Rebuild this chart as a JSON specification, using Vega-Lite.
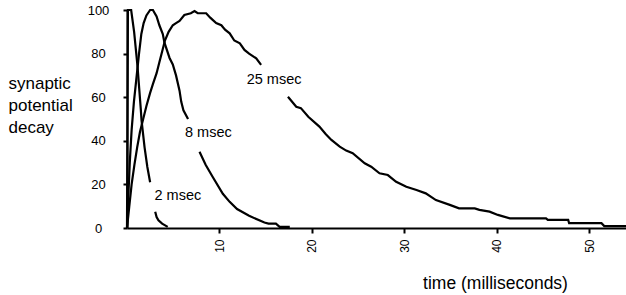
{
  "$schema": "https://vega.github.io/schema/vega-lite/v6.json",
  "width": 499,
  "height": 218,
  "autosize": {"type": "none"},
  "padding": {"left": 127, "top": 10, "right": 0, "bottom": 67},
  "background": "white",
  "config": {"view": {"stroke": null}, "font": "Liberation Sans"},
  "layer": [
    {
      "data": {"values": [
        {"seg": "2a", "t": 0, "v": 0}, {"seg": "2a", "t": 0.1, "v": 100}, {"seg": "2a", "t": 0.45, "v": 100},
        {"seg": "2a", "t": 0.77, "v": 90}, {"seg": "2a", "t": 1.13, "v": 74.5}, {"seg": "2a", "t": 1.49, "v": 54.5},
        {"seg": "2a", "t": 1.57, "v": 49.5}, {"seg": "2a", "t": 1.9, "v": 37}, {"seg": "2a", "t": 2.2, "v": 28}, {"seg": "2a", "t": 2.5, "v": 21},
        {"seg": "2b", "t": 3.05, "v": 7.5}, {"seg": "2b", "t": 3.2, "v": 5}, {"seg": "2b", "t": 3.4, "v": 3.5}, {"seg": "2b", "t": 3.8, "v": 2}, {"seg": "2b", "t": 4.4, "v": 0.5},
        {"seg": "8a", "t": 0, "v": 0}, {"seg": "8a", "t": 0.15, "v": 15}, {"seg": "8a", "t": 0.3, "v": 30}, {"seg": "8a", "t": 0.5, "v": 45},
        {"seg": "8a", "t": 0.75, "v": 58}, {"seg": "8a", "t": 1.0, "v": 68}, {"seg": "8a", "t": 1.3, "v": 80}, {"seg": "8a", "t": 1.55, "v": 89},
        {"seg": "8a", "t": 1.8, "v": 94}, {"seg": "8a", "t": 2.1, "v": 97.5}, {"seg": "8a", "t": 2.5, "v": 100}, {"seg": "8a", "t": 2.8, "v": 100},
        {"seg": "8a", "t": 3.2, "v": 97}, {"seg": "8a", "t": 3.5, "v": 93}, {"seg": "8a", "t": 3.87, "v": 89}, {"seg": "8a", "t": 4.05, "v": 85},
        {"seg": "8a", "t": 4.6, "v": 78}, {"seg": "8a", "t": 4.95, "v": 75}, {"seg": "8a", "t": 5.3, "v": 70}, {"seg": "8a", "t": 5.68, "v": 63},
        {"seg": "8a", "t": 5.86, "v": 58}, {"seg": "8a", "t": 6.1, "v": 54}, {"seg": "8a", "t": 6.6, "v": 50},
        {"seg": "8b", "t": 7.84, "v": 35}, {"seg": "8b", "t": 8.5, "v": 29}, {"seg": "8b", "t": 9.27, "v": 23.4}, {"seg": "8b", "t": 10.36, "v": 15.7},
        {"seg": "8b", "t": 11.1, "v": 12}, {"seg": "8b", "t": 11.9, "v": 8.7}, {"seg": "8b", "t": 13.2, "v": 5.6}, {"seg": "8b", "t": 14.86, "v": 2.5},
        {"seg": "8b", "t": 15.3, "v": 2}, {"seg": "8b", "t": 16.1, "v": 2}, {"seg": "8b", "t": 16.5, "v": 0.5}, {"seg": "8b", "t": 17.6, "v": 0.5},
        {"seg": "25a", "t": 0, "v": 0}, {"seg": "25a", "t": 0.25, "v": 10}, {"seg": "25a", "t": 0.5, "v": 20}, {"seg": "25a", "t": 0.8, "v": 29},
        {"seg": "25a", "t": 1.1, "v": 37}, {"seg": "25a", "t": 1.4, "v": 44}, {"seg": "25a", "t": 1.75, "v": 50}, {"seg": "25a", "t": 2.1, "v": 56},
        {"seg": "25a", "t": 2.5, "v": 62}, {"seg": "25a", "t": 2.8, "v": 66}, {"seg": "25a", "t": 3.2, "v": 71}, {"seg": "25a", "t": 3.5, "v": 76},
        {"seg": "25a", "t": 3.8, "v": 81}, {"seg": "25a", "t": 4.1, "v": 86}, {"seg": "25a", "t": 4.5, "v": 90}, {"seg": "25a", "t": 4.95, "v": 93},
        {"seg": "25a", "t": 5.3, "v": 94}, {"seg": "25a", "t": 5.68, "v": 95}, {"seg": "25a", "t": 6.2, "v": 97.7}, {"seg": "25a", "t": 6.9, "v": 98.5},
        {"seg": "25a", "t": 7.3, "v": 99.5}, {"seg": "25a", "t": 7.65, "v": 98.5}, {"seg": "25a", "t": 8.56, "v": 98.5}, {"seg": "25a", "t": 9.0, "v": 96.5},
        {"seg": "25a", "t": 9.64, "v": 94}, {"seg": "25a", "t": 10.2, "v": 93}, {"seg": "25a", "t": 10.6, "v": 91}, {"seg": "25a", "t": 11.1, "v": 89.3},
        {"seg": "25a", "t": 11.6, "v": 86}, {"seg": "25a", "t": 12.2, "v": 84.7}, {"seg": "25a", "t": 12.7, "v": 81.7}, {"seg": "25a", "t": 13.2, "v": 80},
        {"seg": "25a", "t": 13.97, "v": 77.8}, {"seg": "25a", "t": 14.5, "v": 74.8},
        {"seg": "25b", "t": 17.4, "v": 60.2}, {"seg": "25b", "t": 18.3, "v": 55.6}, {"seg": "25b", "t": 18.8, "v": 55}, {"seg": "25b", "t": 19.6, "v": 51},
        {"seg": "25b", "t": 20.8, "v": 46.5}, {"seg": "25b", "t": 21.5, "v": 43}, {"seg": "25b", "t": 22.1, "v": 40.4}, {"seg": "25b", "t": 23.0, "v": 37.3},
        {"seg": "25b", "t": 23.7, "v": 35.5}, {"seg": "25b", "t": 24.4, "v": 34.3}, {"seg": "25b", "t": 25.7, "v": 29.7}, {"seg": "25b", "t": 26.4, "v": 28.1},
        {"seg": "25b", "t": 27.3, "v": 25.1}, {"seg": "25b", "t": 28.2, "v": 24.3}, {"seg": "25b", "t": 29.1, "v": 21.2}, {"seg": "25b", "t": 30.2, "v": 18.9},
        {"seg": "25b", "t": 31.3, "v": 17.4}, {"seg": "25b", "t": 32.3, "v": 15.9}, {"seg": "25b", "t": 33.4, "v": 12.8}, {"seg": "25b", "t": 34.9, "v": 10.6},
        {"seg": "25b", "t": 35.9, "v": 9}, {"seg": "25b", "t": 37.6, "v": 9}, {"seg": "25b", "t": 38.1, "v": 8.3}, {"seg": "25b", "t": 39.2, "v": 7.5},
        {"seg": "25b", "t": 40.1, "v": 6}, {"seg": "25b", "t": 41.4, "v": 4.4}, {"seg": "25b", "t": 45.3, "v": 4.4}, {"seg": "25b", "t": 45.5, "v": 3.7},
        {"seg": "25b", "t": 47.7, "v": 3.7}, {"seg": "25b", "t": 47.8, "v": 2.2}, {"seg": "25b", "t": 51.3, "v": 2.2}, {"seg": "25b", "t": 51.6, "v": 0.9},
        {"seg": "25b", "t": 53.95, "v": 0.9}
      ]},
      "mark": {"type": "line", "color": "black", "strokeWidth": 2.2},
      "encoding": {
        "x": {
          "field": "t", "type": "quantitative",
          "scale": {"domain": [0, 53.95], "nice": false, "zero": false},
          "axis": {
            "values": [10, 20, 30, 40, 50], "labelAngle": 270, "labelFontSize": 12, "labelColor": "black",
            "labelFont": "Liberation Sans", "labelPadding": 6,
            "tickColor": "black", "tickWidth": 2, "tickSize": 5,
            "domainColor": "black", "domainWidth": 2, "grid": false,
            "title": "time (milliseconds)", "titleFont": "Liberation Sans", "titleFontSize": 17.5,
            "titleFontWeight": "normal", "titleColor": "black",
            "titleX": 368, "titleY": 60, "titleAlign": "center", "titleBaseline": "alphabetic", "titleAnchor": null
          }
        },
        "y": {
          "field": "v", "type": "quantitative",
          "scale": {"domain": [0, 100], "nice": false},
          "axis": {
            "values": [0, 20, 40, 60, 80, 100], "labelAlign": "center", "labelBaseline": "middle", "labelFontSize": 13,
            "labelColor": "black", "labelFont": "Liberation Sans", "labelPadding": 25,
            "tickColor": "black", "tickWidth": 2, "tickSize": 4,
            "domainColor": "black", "domainWidth": 2, "grid": false,
            "title": ["synaptic", "potential", "decay"], "titleFont": "Liberation Sans", "titleFontSize": 17,
            "titleFontWeight": "normal", "titleColor": "black", "titleAngle": 0,
            "titleAlign": "left", "titleBaseline": "top", "titleLineHeight": 22,
            "titleX": -119, "titleY": 65
          }
        },
        "detail": {"field": "seg", "type": "nominal"}
      }
    },
    {
      "data": {"values": [
        {"t": 15.9, "v": 67.9, "label": "25 msec"},
        {"t": 8.8, "v": 43.6, "label": "8 msec"},
        {"t": 5.5, "v": 14.7, "label": "2 msec"}
      ]},
      "mark": {"type": "text", "font": "Liberation Sans", "fontSize": 14.5, "color": "black", "align": "center", "baseline": "middle"},
      "encoding": {
        "x": {"field": "t", "type": "quantitative"},
        "y": {"field": "v", "type": "quantitative"},
        "text": {"field": "label", "type": "nominal"}
      }
    }
  ]
}
